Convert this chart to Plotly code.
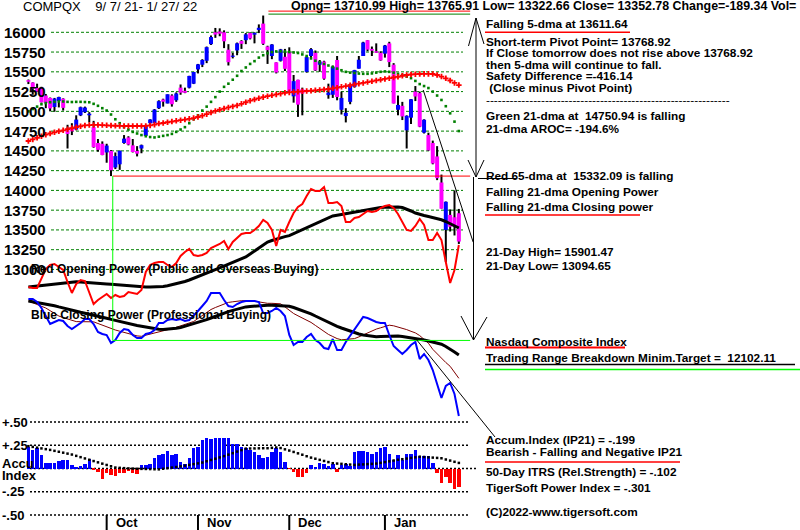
import plotly.graph_objects as go

W, H = 800, 530

# ---------------- data ----------------
DAYS = list(range(100))
MONTH_STARTS = [18, 39, 60, 82]
MONTH_LABELS = ["Oct", "Nov", "Dec", "Jan"]

OPEN = [15395, 15365, 15295, 15300, 15200, 15170, 15055, 15130, 15160, 14760,
        14800, 14770, 14950, 14990, 14950, 14800, 14600, 14590, 14480, 14500,
        14290, 14330, 14600, 14670, 14570, 14500, 14530, 14690, 14850, 14850,
        15040, 15150, 15100, 15200, 15140, 15300, 15260, 15300, 15350, 15530,
        15590, 15640, 15850, 16000, 16010, 16000, 15780, 15690, 15770, 15890,
        15900, 15990, 15970, 16030, 16110, 15820, 15700, 15620, 15640, 15690,
        15750, 15190, 15400, 15280, 15500, 15700, 15740, 15590, 15630, 15205,
        15210, 15650, 15020, 14940, 15120, 15310, 15540, 15700, 15900, 15790,
        15760, 15740, 15730, 15860, 15590, 15020, 15070, 14760, 14920, 15250,
        15230, 14730, 14700, 14600, 14430, 14100, 13500, 13690, 13660, 13710.99]
HIGH = [15403, 15367, 15350, 15311, 15220, 15175, 15170, 15185, 15165, 14830,
        14850, 14950, 15060, 15060, 14990, 14880, 14650, 14620, 14590, 14510,
        14480, 14505, 14700, 14685, 14650, 14560, 14580, 14830, 14900, 15030,
        15140, 15160, 15215, 15215, 15240, 15340, 15300, 15450, 15500, 15600,
        15660, 15820, 15960, 16055, 16050, 16025, 15850, 15740, 15870, 15900,
        15990, 16000, 16000, 16100, 16212, 15830, 15850, 15620, 15790, 15790,
        15810, 15460, 15400, 15300, 15700, 15800, 15770, 15650, 15640, 15350,
        15580, 15700, 15250, 15040, 15345, 15525, 15700, 15880, 15901, 15820,
        15860, 15760, 15840, 15880, 15610, 15200, 15120, 14950, 15155, 15320,
        15250, 14900, 14730, 14630, 14560, 14200, 13860, 13760, 14000, 13765.91]
LOW = [15345, 15210, 15245, 15112, 15040, 15000, 14995, 15050, 15010, 14530,
       14700, 14760, 14940, 14980, 14860, 14540, 14490, 14445, 14350, 14181,
       14270, 14260, 14590, 14570, 14480, 14430, 14470, 14690, 14830, 14850,
       15030, 15060, 15100, 15060, 15120, 15210, 15230, 15290, 15345, 15480,
       15560, 15610, 15840, 15930, 15950, 15800, 15580, 15670, 15710, 15790,
       15850, 15910, 15860, 15990, 15840, 15600, 15660, 15480, 15630, 15510,
       15250, 15110, 14930, 14950, 15490, 15660, 15510, 15500, 15400, 15160,
       15170, 15140, 14960, 14860, 15090, 15300, 15540, 15700, 15760, 15700,
       15740, 15640, 15680, 15560, 15100, 14950, 14890, 14530, 14840, 15130,
       14800, 14720, 14500, 14330, 14130, 13770, 13094.65, 13480, 13430, 13322.66]
CLOSE = [15374, 15287, 15248, 15115, 15105, 15037, 15161, 15181, 15044, 14714,
         14747, 14896, 15052, 15048, 14970, 14547, 14513, 14448, 14567, 14255,
         14434, 14501, 14655, 14580, 14486, 14465, 14572, 14823, 14897, 15022,
         15129, 15122, 15216, 15090, 15226, 15236, 15235, 15448, 15498, 15595,
         15650, 15812, 15940, 15971, 15982, 15886, 15622, 15705, 15861, 15854,
         15974, 15922, 15993, 16057, 15855, 15775, 15846, 15492, 15783, 15538,
         15254, 15382, 15085, 15225, 15686, 15786, 15518, 15631, 15413, 15238,
         15566, 15181, 15170, 14981, 15341, 15522, 15653, 15871, 15781, 15767,
         15741, 15645, 15833, 15623, 15100, 15081, 14936, 14943, 15153, 15188,
         14806, 14894, 14507, 14341, 14155, 13769, 13856, 13540, 13542, 13352.78]

MA21 = [15000, 15030, 15060, 15090, 15105, 15115, 15120, 15125, 15125, 15120,
        15118, 15120, 15120, 15118, 15115, 15095, 15070, 15040, 15010, 14960,
        14900, 14850, 14800, 14770, 14740, 14720, 14700, 14685, 14675, 14670,
        14680, 14690, 14700, 14715, 14740, 14770, 14800, 14850, 14900, 14950,
        15010, 15060, 15120, 15180, 15250, 15310, 15350, 15400, 15450, 15510,
        15555, 15600, 15635, 15680, 15710, 15735, 15750, 15758, 15760, 15758,
        15750, 15745, 15738, 15720, 15700, 15670, 15640, 15620, 15600, 15580,
        15560, 15540, 15520, 15500, 15490, 15485, 15478, 15475, 15475, 15480,
        15490, 15500, 15505, 15500, 15490, 15475, 15460, 15440, 15420, 15385,
        15345, 15320, 15295, 15250, 15200, 15144, 15065, 14975, 14870, 14750.94]
MA65 = [14625, 14645, 14665, 14685, 14705, 14720, 14735, 14748, 14760, 14775,
        14788, 14800, 14812, 14822, 14826, 14828, 14828, 14826, 14823, 14820,
        14818, 14816, 14815, 14815, 14815, 14815, 14815, 14816, 14822, 14832,
        14845, 14853, 14862, 14871, 14880, 14888, 14896, 14905, 14915, 14928,
        14945, 14965, 14985, 15005, 15020, 15035, 15050, 15062, 15075, 15095,
        15115, 15135, 15150, 15165, 15180, 15192, 15203, 15214, 15224, 15234,
        15240, 15245, 15249, 15253, 15257, 15261, 15266, 15271, 15276, 15283,
        15291, 15300, 15310, 15320, 15330, 15340, 15350, 15360, 15370, 15380,
        15391, 15400, 15410, 15420, 15428, 15438, 15450, 15460, 15466, 15470,
        15473, 15474, 15474, 15472, 15460, 15440, 15418, 15390, 15360, 15332.09]

OPEN_POWER = [13, 12, 12, 22, 31, 35, 36, 33, 30, 18,
              7, 16, 20, 19, 8, -4, 0, 3, 6, 2,
              5, 3, 4, 8, 7, 6, 10, 28, 35, 37,
              38, 38, 35, 33, 37, 44, 48, 51, 45, 44,
              45, 47, 52, 54, 56, 59, 51, 58, 62, 66,
              67, 67, 70, 74, 80, 77, 70, 54, 70, 68,
              78, 87, 93, 96, 104, 111, 109, 109, 113, 97,
              97, 98, 94, 78, 78, 82, 83, 86, 89, 88,
              89, 92, 94, 95, 92, 86, 78, 70, 69, 74,
              81, 75, 60, 60, 67, 60, 38, 17, 30, 55]
OPEN_POWER_MA = [13, 13.5, 14, 14.5, 15, 15.6, 16.2, 16.8, 17.4, 17.9,
                 18.3, 18.2, 18, 17.8, 17.5, 17.2, 16.8, 16.5, 16.1, 15.8,
                 15.4, 15, 14.5, 14, 13.5, 13, 12.9, 12.9, 13, 13,
                 13.1, 13.6, 14.3, 15.2, 16.1, 17.1, 18.5, 20, 21.6, 23.2,
                 24.9, 26.7, 28.5, 30.3, 32.1, 33.9, 35.7, 37.5, 39.3, 41.1,
                 43, 46, 49, 52, 55, 58, 59.5, 61, 62.3, 63.4,
                 64.4, 66.3, 68.2, 70.1, 72, 74, 76, 78, 80, 82,
                 84, 84.8, 85.6, 86.4, 87.2, 88, 88.9, 89.8, 90.7, 91.5,
                 92.3, 92.5, 92.7, 92.9, 93, 93, 92.5, 91, 89, 87,
                 85.5, 84.5, 83.5, 82.5, 81.3, 80.2, 78.5, 76.5, 74, 72]
CLOSE_POWER = [1, 1, -2, -8, -16, -24, -22, -20, -21, -26,
               -29, -26, -23, -19, -19, -24, -32, -34, -35, -43,
               -40, -33, -29, -30, -35, -38, -38, -34, -33, -30,
               -23, -23, -20, -19, -20, -19, -21, -20, -16, -11,
               -6, -1, 7, 7, 7, 0, -6, -7, -4, -2,
               -1, -1, -1, -2, -13, -13, -11, -8, -11, -16,
               -35, -45, -42, -42, -37, -34, -40, -43, -48, -49,
               -39, -50, -50, -42, -36, -30, -24, -17, -18, -20,
               -22, -23, -23, -35, -46, -50, -54, -50, -45, -42,
               -59, -54, -60, -70, -84, -98, -86, -83, -94, -116]
CLOSE_POWER_MA = [-1, -1.7, -2.4, -3.1, -3.8, -4.5, -5.7, -6.9, -8.1, -9.3,
                  -10.5, -11.4, -12.3, -13.2, -14.1, -15, -16.1, -17.2, -18.3, -19.4,
                  -20.5, -21.5, -22.5, -23.5, -24.5, -25.5, -26.3, -27.1, -27.9, -28.6,
                  -29.3, -29.4, -29.2, -28.8, -28.2, -27.5, -26.3, -25.1, -23.9, -22.6,
                  -21.4, -19.7, -18, -16.2, -14.5, -12.8, -11.6, -10.4, -9.2, -8,
                  -6.9, -6.5, -6.1, -5.8, -5.5, -5.2, -5.3, -5.5, -5.8, -6,
                  -6.3, -7.5, -9, -10.5, -12.1, -13.8, -16, -18.2, -20.3, -22.5,
                  -24.6, -26.3, -28, -29.7, -31.4, -33.1, -34, -34.9, -35.6, -36.2,
                  -36.7, -36.6, -36.4, -36.2, -36, -35.9, -36.5, -37.1, -37.8, -38.4,
                  -39, -40, -41, -42.1, -43.2, -44.2, -46.5, -49, -52, -55]
CLOSE_POWER_MA_FAST = [-1, -2.6, -4.4, -6, -8, -10.7, -13.3, -16, -17.6, -18.9,
                       -20.3, -21.6, -21.7, -21.7, -21.7, -21.8, -23.5, -25.2, -27, -28.6,
                       -30, -31.2, -32.5, -33.7, -34.7, -35.9, -36.3, -35.3, -34.1, -33,
                       -31.9, -30.8, -29.7, -28.6, -27.3, -25.8, -24.4, -23, -21.5, -18.5,
                       -15.4, -12.4, -9.5, -7.5, -5.6, -3.6, -2.4, -1.8, -1.1, -0.7,
                       -0.7, -0.7, -1, -1.9, -2.8, -3.3, -3.3, -3.3, -3.8, -6.9,
                       -10.5, -13.5, -15.8, -17.9, -20.1, -22.4, -25.4, -28.5, -31.5, -34.4,
                       -36.5, -38.6, -39.8, -39.4, -39, -38.6, -36.9, -34.8, -32.6, -30.5,
                       -29.1, -27.8, -26.5, -25.2, -25.8, -26.9, -28, -29.6, -31.3, -32.9,
                       -35.6, -39.2, -43.2, -49.3, -53.9, -58.2, -62.5, -66.3, -71.9, -78.3]

ACCUM = [.234, .199, .217, .145, .056, .056, .062, .084, .09, .09,
         .038, .02, .025, .048, .1, -.01, -.034, -.116, -.052, -.07,
         -.08, -.05, -.05, -.03, -.05, -.06, .04, .04, .05, .116,
         .142, .156, .188, .142, .156, .073, .05, .11, .217, .228,
         .306, .325, .32, .325, .325, .325, .325, .26, .26, .234,
         .217, .2, .18, .14, .11, .125, .18, .217, .18, .073,
         -.005, -.035, -.088, -.088, -.05, .036, .02, .06, .05, .03,
         .05, -.04, .036, .05, .03, .18, .19, .19, .18, .16,
         .18, .217, .23, .16, .09, .145, .09, .16, .156, .2,
         .13, .13, .13, .056, -.05, -.152, -.09, -.16, -.224, -.199]
ACCUM_MA = [.24, .232, .224, .216, .208, .2, .19, .18, .17, .16,
            .15, .136, .122, .108, .094, .08, .066, .052, .038, .024,
            .01, .007, .004, .001, -.001, -.003, -.004, -.005, -.006, -.008,
            -.009, -.003, .004, .01, .016, .023, .031, .039, .047, .055,
            .064, .078, .092, .105, .119, .133, .149, .165, .182, .198,
            .214, .215, .216, .217, .218, .218, .222, .226, .22, .206,
            .193, .178, .163, .148, .132, .117, .105, .093, .081, .069,
            .057, .053, .05, .046, .042, .039, .042, .044, .047, .05,
            .053, .061, .069, .077, .086, .094, .1, .107, .114, .12,
            .127, .124, .12, .117, .114, .11, .097, .085, .072, .06]

PRICE_TICKS = [16000, 15750, 15500, 15250, 15000, 14750, 14500, 14250,
               14000, 13750, 13500, 13250, 13000]
ACCUM_TICKS = [0.5, 0.25, 0.0, -0.25, -0.5]
ACCUM_TICK_TEXT = ["+.50", "+.25", "", "-.25", "-.50"]

RANGE_LOW_DAY = 19
RANGE_LOW = 14181.0
TARGET = 12102.11
TOP_LEVELS = [16268, 16230]
TRENDLINE_X = [90.8, 102.3]
TRENDLINE_Y = [15270, 13345]

# ---------------- helpers ----------------
def fx(x):
    return x / W


def fy(y):
    return 1 - y / H


BLUE = "#0000FF"
MAGENTA = "#FF00FF"
GREEN = "#008000"
RED = "#FF0000"

fig = go.Figure()

# accumulation index bars (drawn first, bars sit below scatter layers)
acol = [BLUE if a >= 0 else RED for a in ACCUM]
fig.add_trace(go.Bar(x=DAYS, y=ACCUM, marker=dict(color=acol, line=dict(width=0)), width=0.8, yaxis="y3"))

# wicks
wx, wy = [], []
for i, h, l in zip(DAYS, HIGH, LOW):
    wx += [i, i, None]
    wy += [l, h, None]
fig.add_trace(go.Scatter(x=wx, y=wy, mode="lines", line=dict(color="black", width=2),
                         hoverinfo="skip", yaxis="y"))

# bodies, drawn over the wicks
for up, col in ((True, BLUE), (False, MAGENTA)):
    bx, by = [], []
    for i, o, c in zip(DAYS, OPEN, CLOSE):
        if (c >= o) == up:
            lo, hi = min(o, c), max(o, c)
            if hi - lo < 10:
                hi = lo + 10
            bx += [i, i, None]
            by += [lo, hi, None]
    fig.add_trace(go.Scatter(x=bx, y=by, mode="lines", line=dict(color=col, width=4),
                             hoverinfo="skip", yaxis="y"))

# moving averages on price
fig.add_trace(go.Scatter(x=DAYS, y=MA21, mode="markers",
                         marker=dict(symbol="square", size=2.6, color=GREEN, line=dict(width=0)),
                         yaxis="y"))
fig.add_trace(go.Scatter(x=DAYS, y=MA65, mode="markers",
                         marker=dict(symbol="cross", size=4.6, color=RED, line=dict(width=0)),
                         yaxis="y"))

# power lines
fig.add_trace(go.Scatter(x=DAYS, y=OPEN_POWER_MA, mode="lines", line=dict(color="black", width=3), yaxis="y2"))
fig.add_trace(go.Scatter(x=DAYS, y=OPEN_POWER, mode="lines", line=dict(color=RED, width=2), yaxis="y2"))
fig.add_trace(go.Scatter(x=DAYS, y=CLOSE_POWER_MA_FAST, mode="lines", line=dict(color="#800000", width=1), yaxis="y2"))
fig.add_trace(go.Scatter(x=DAYS, y=CLOSE_POWER_MA, mode="lines", line=dict(color="black", width=3), yaxis="y2"))
fig.add_trace(go.Scatter(x=DAYS, y=CLOSE_POWER, mode="lines", line=dict(color=BLUE, width=2), yaxis="y2"))

# accumulation moving average (dotted)
fig.add_trace(go.Scatter(x=DAYS, y=ACCUM_MA, mode="markers",
                         marker=dict(symbol="square", size=2.5, color="black", line=dict(width=0)),
                         yaxis="y3"))

shapes = []
# price grid
for p in PRICE_TICKS:
    shapes.append(dict(type="line", xref="paper", yref="y", x0=fx(51), x1=fx(463), y0=p, y1=p,
                       line=dict(color=GREEN, width=1, dash="3px,2px"), layer="below"))
# accum grid
for a in ACCUM_TICKS:
    shapes.append(dict(type="line", xref="paper", yref="y3", x0=fx(30), x1=fx(478 if a == 0 else 470),
                       y0=a, y1=a, line=dict(color="black", width=1.5, dash="2px,2px"), layer="below"))

# trading range lines
shapes.append(dict(type="line", xref="x", yref="y", x0=55.2, x1=101.6, y0=TOP_LEVELS[0], y1=TOP_LEVELS[0],
                   line=dict(color=RED, width=1)))
shapes.append(dict(type="line", xref="x", yref="y", x0=55.2, x1=101.6, y0=TOP_LEVELS[1], y1=TOP_LEVELS[1],
                   line=dict(color=GREEN, width=1)))
shapes.append(dict(type="line", xref="x", yref="y", x0=RANGE_LOW_DAY + 0.4, x1=101.6, y0=RANGE_LOW, y1=RANGE_LOW,
                   line=dict(color=RED, width=1)))
shapes.append(dict(type="line", xref="x", yref="y", x0=RANGE_LOW_DAY + 0.4, x1=RANGE_LOW_DAY + 0.4,
                   y0=RANGE_LOW, y1=TARGET, line=dict(color="#00FF00", width=1)))
shapes.append(dict(type="line", xref="x", yref="y", x0=RANGE_LOW_DAY + 0.4, x1=101.6, y0=TARGET, y1=TARGET,
                   line=dict(color="#00FF00", width=1)))
# trendline
shapes.append(dict(type="line", xref="x", yref="y", x0=TRENDLINE_X[0], x1=TRENDLINE_X[1],
                   y0=TRENDLINE_Y[0], y1=TRENDLINE_Y[1], line=dict(color="black", width=1)))


def pline(x0, y0, x1, y1, color="black", width=1):
    shapes.append(dict(type="line", xref="paper", yref="paper", x0=fx(x0), x1=fx(x1), y0=fy(y0), y1=fy(y1),
                       line=dict(color=color, width=width)))


# pointer to accum text
pline(416, 339, 495, 437)
# upper double arrow
pline(476, 18, 476, 177)
pline(476, 18, 468.5, 46)
pline(476, 18, 484, 44)
pline(468, 160, 476, 177)
pline(484, 160, 476, 177)
# lower arrow
pline(473.5, 177, 473.5, 340)
pline(461, 316, 473.5, 340)
pline(487, 317, 473.5, 340)
pline(478, 178.5, 516, 178.5)
# underlines
pline(485, 32.3, 630, 32.3, RED, 1.5)
pline(485, 215, 640, 215, RED, 1.5)
pline(485, 347.5, 625, 347.5, RED, 2)
pline(485, 364.5, 795, 364.5, "black", 1.5)
pline(485, 369.5, 800, 369.5, "#00FF00", 1.5)
pline(485, 462, 680, 462, RED, 1.5)
# month ticks
for m in MONTH_STARTS:
    shapes.append(dict(type="line", xref="x", yref="paper", x0=m, x1=m, y0=fy(515), y1=fy(530),
                       line=dict(color="black", width=2)))

anns = []


def label(text, x, y, size=12, bold=True, family="Liberation Sans", color="black"):
    anns.append(dict(text=f"<b>{text}</b>" if bold else text, x=fx(x), y=fy(y), xref="paper", yref="paper",
                     xanchor="left", yanchor="middle", showarrow=False, borderpad=0,
                     font=dict(family=family, size=size, color=color)))


# price tick labels
for p in PRICE_TICKS:
    anns.append(dict(text=f"<b>{p}</b>", x=fx(3), y=p, xref="paper", yref="y", xanchor="left",
                     yanchor="middle", showarrow=False, borderpad=0,
                     font=dict(family="Liberation Sans", size=15, color="black")))
# accum tick labels
for a, t in zip(ACCUM_TICKS, ACCUM_TICK_TEXT):
    if t:
        anns.append(dict(text=f"<b>{t}</b>", x=fx(1), y=a, xref="paper", yref="y3", xanchor="left",
                         yanchor="middle", showarrow=False, borderpad=0,
                         font=dict(family="Liberation Sans", size=13, color="black")))
label("Accu", 1, 463, 13)
label("Index", 1, 475, 13)
for m, t in zip(MONTH_STARTS, MONTH_LABELS):
    anns.append(dict(text=f"<b>{t}</b>", x=m, y=fy(522), xref="x", yref="paper", xanchor="left",
                     xshift=8, yanchor="middle", showarrow=False, borderpad=0,
                     font=dict(family="Liberation Sans", size=13, color="black")))

label("COMPQX\u00a0\u00a0\u00a0 9/ 7/ 21- 1/ 27/ 22", 22, 7, 13, bold=False)
label("Opng= 13710.99 High= 13765.91 Low= 13322.66 Close= 13352.78 Change=-189.34 Vol=", 290, 6, 12.4)

label("Red Opening Power (Public and Overseas Buying)", 30, 269, 12)
label("Blue Closing Power (Professional Buying)", 30, 315, 12)

RX = 485
FS = 11.8
label("Falling 5-dma at 13611.64", RX, 24, FS)
label("Short-term Pivot Point= 13768.92", RX, 41.5, FS)
label("If Close tomorrow does not rise above 13768.92", RX, 53, FS)
label("then 5-dma will continue to fall.", RX, 64.5, FS)
label("Safety Difference =-416.14", RX, 76, FS)
label("\u00a0(Close minus Pivot Point)", RX, 87.5, FS)
label("-" * 62, RX, 100, FS, bold=False)
label("Green 21-dma at\u00a0 14750.94 is falling", RX, 115.7, FS)
label("21-dma AROC= -194.6%", RX, 129, FS)
label("Red 65-dma at\u00a0 15332.09 is falling", RX, 176, FS)
label("Falling 21-dma Opening Power", RX, 192, FS)
label("Falling 21-dma Closing power", RX, 206.7, FS)
label("21-Day High= 15901.47", RX, 252.3, FS)
label("21-Day Low= 13094.65", RX, 266, FS)
label("Nasdaq Composite Index", RX, 342.3, FS)
label("Trading Range Breakdown Minim.Target =\u00a0 12102.11", RX, 357.7, FS)
label("Accum.Index (IP21) = -.199", RX, 440, FS)
label("Bearish - Falling and Negative IP21", RX, 452.3, FS)
label("50-Day ITRS (Rel.Strength) = -.102", RX, 471.7, FS)
label("TigerSoft Power Index = -.301", RX, 488.3, FS)
label("(C)2022-www.tigersoft.com", RX, 511.7, FS)

fig.update_layout(
    width=W, height=H, margin=dict(l=0, r=0, t=0, b=0),
    paper_bgcolor="white", plot_bgcolor="white",
    showlegend=False, barmode="overlay", bargap=0,
    xaxis=dict(range=[-6.53, 177.46], visible=False, fixedrange=True),
    yaxis=dict(range=[9704.0, 16408.6], visible=False, fixedrange=True),
    yaxis2=dict(range=[-230, 300], visible=False, overlaying="y", fixedrange=True),
    yaxis3=dict(range=[-0.6613, 5.0376], visible=False, overlaying="y", fixedrange=True),
    shapes=shapes, annotations=anns,
)

fig.write_html("out.html")
